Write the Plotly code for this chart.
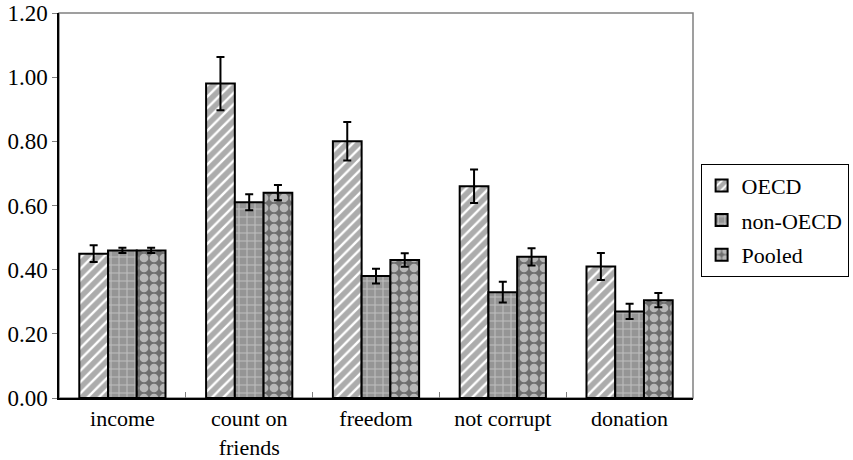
import plotly.graph_objects as go

categories = ['income', 'count on<br>friends', 'freedom', 'not corrupt', 'donation']

oecd = [0.45, 0.98, 0.80, 0.66, 0.41]
oecd_err = [0.026, 0.083, 0.06, 0.052, 0.042]

non_oecd = [0.46, 0.61, 0.38, 0.33, 0.27]
non_oecd_err = [0.008, 0.025, 0.023, 0.032, 0.024]

pooled = [0.46, 0.64, 0.43, 0.44, 0.305]
pooled_err = [0.008, 0.024, 0.021, 0.027, 0.022]

SERIES = [
    ('OECD', oecd, oecd_err, dict(shape='/', bgcolor='white', fgcolor='#5a5a5a', size=8, solidity=0.7)),
    ('non-OECD', non_oecd, non_oecd_err, dict(shape='+', bgcolor='#959595', fgcolor='#e6e6e6', size=8, solidity=0.25)),
    ('Pooled', pooled, pooled_err, dict(shape='.', bgcolor='#6e6e6e', fgcolor='white', size=10, solidity=0.6)),
]

FONT = 'Liberation Serif, Times New Roman, serif'

fig = go.Figure()
for name, vals, errs, pat in SERIES:
    fig.add_trace(go.Bar(
        name=name,
        legendgroup=name,
        x=categories,
        y=vals,
        marker=dict(color='white', pattern=pat, line=dict(color='black', width=2)),
        error_y=dict(type='data', array=errs, color='black', thickness=2, width=4),
    ))

fig.update_layout(
    width=853,
    height=460,
    barmode='group',
    bargap=0.32,
    bargroupgap=0,
    paper_bgcolor='white',
    plot_bgcolor='white',
    font=dict(family=FONT, size=23, color='black'),
    margin=dict(l=59, r=160, t=13, b=62, autoexpand=False),
    legend=dict(
        x=1.012, xanchor='left', y=0.462, yanchor='middle',
        bordercolor='black', borderwidth=1,
        font=dict(family=FONT, size=22),
        tracegroupgap=3,
        itemwidth=30,
    ),
    shapes=[dict(type='rect', xref='paper', yref='paper', x0=0, x1=1, y0=0, y1=1,
                 line=dict(color='#808080', width=1.5), layer='below')],
)

fig.update_xaxes(
    showline=True, linecolor='black', linewidth=1.5,
    ticks='inside', tickson='boundaries', ticklen=6, tickcolor='#808080',
    tickfont=dict(size=22),
    showgrid=False, automargin=False,
)
fig.update_yaxes(
    range=[0, 1.2], dtick=0.2, tickformat='.2f',
    showline=True, linecolor='black', linewidth=1.5,
    ticks='outside', ticklen=5, tickcolor='#808080',
    showgrid=False, zeroline=False, automargin=False,
)

# page body has a default 8px margin; drop it so the chart sits at the window origin
fig.write_html('out.html', config={'displayModeBar': False},
               post_script="document.body.style.margin='0';")
